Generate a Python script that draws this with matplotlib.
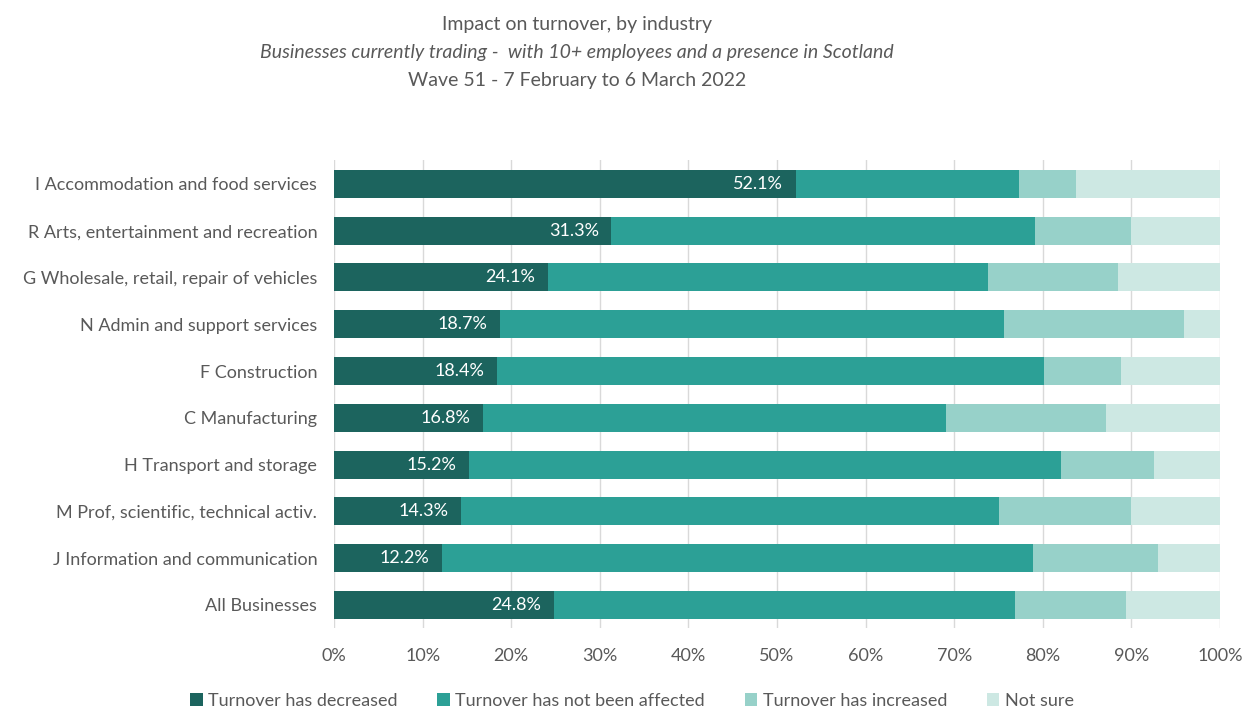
import numpy as np
import matplotlib
matplotlib.use("Agg")
import matplotlib.pyplot as plt

plt.rcParams['font.family'] = ['Lato', 'DejaVu Sans']

# 数据
industries = ["I Accommodation and food services",
              "R Arts, entertainment and recreation",
              "G Wholesale, retail, repair of vehicles",
              "N Admin and support services",
              "F Construction",
              "C Manufacturing",
              "H Transport and storage",
              "M Prof, scientific, technical activ.",
              "J Information and communication",
              "All Businesses"]
decreased = [52.1, 31.3, 24.1, 18.7, 18.4, 16.8, 15.2, 14.3, 12.2, 24.8]
not_affected = [25.2, 47.8, 49.7, 56.9, 61.7, 52.3, 66.9, 60.8, 66.7, 52.1]
increased = [6.5, 10.8, 14.7, 20.3, 8.7, 18.0, 10.4, 14.9, 14.1, 12.5]
not_sure = [16.2, 10.1, 11.5, 4.1, 11.2, 12.9, 7.5, 10.0, 7.0, 10.6]

series = [("Turnover has decreased", decreased, "#1c645e"),
          ("Turnover has not been affected", not_affected, "#2ca096"),
          ("Turnover has increased", increased, "#97d1c9"),
          ("Not sure", not_sure, "#cde8e3")]

txt_col = "#595959"

fig = plt.figure(figsize=(12.44, 7.10), dpi=100)
ax = fig.add_axes([0.2685, 0.115, 0.7122, 0.659])

y = np.arange(len(industries))
left = np.zeros(len(industries))
for name, vals, col in series:
    vals = np.array(vals)
    ax.barh(y, vals, left=left, height=0.6, color=col, label=name, zorder=3)
    left += vals

# 数据标签
for yi, v in zip(y, decreased):
    ax.text(v - 1.4, yi, f"{v:.1f}%", ha="right", va="center",
            color="white", fontsize=13, zorder=4)

ax.set_xlim(0, 100)
ax.set_ylim(len(industries) - 0.5, -0.5)
ax.set_yticks(y)
ax.set_yticklabels(industries, fontsize=13, color=txt_col)
ax.set_xticks(np.arange(0, 101, 10))
ax.set_xticklabels([f"{t}%" for t in range(0, 101, 10)], fontsize=13, color=txt_col)
ax.tick_params(length=0)
ax.tick_params(axis="y", pad=12)
ax.tick_params(axis="x", pad=14)
ax.grid(axis="x", color="#d9d9d9", linewidth=1, zorder=0)
for s in ax.spines.values():
    s.set_visible(False)

tx = 0.464
fig.text(tx, 0.965, "Impact on turnover, by industry", ha="center", va="center",
         fontsize=14, color=txt_col)
fig.text(tx, 0.926, "Businesses currently trading -  with 10+ employees and a presence in Scotland",
         ha="center", va="center", fontsize=14, color=txt_col, style="italic")
fig.text(tx, 0.887, "Wave 51 - 7 February to 6 March 2022", ha="center", va="center",
         fontsize=14, color=txt_col)

fig.legend(loc="center", bbox_to_anchor=(0.508, 0.013), ncol=4, frameon=False,
           fontsize=13, handlelength=0.7, handleheight=0.7, handletextpad=0.3,
           columnspacing=2.2, labelcolor=txt_col)

fig.savefig("out.png", dpi=100)
